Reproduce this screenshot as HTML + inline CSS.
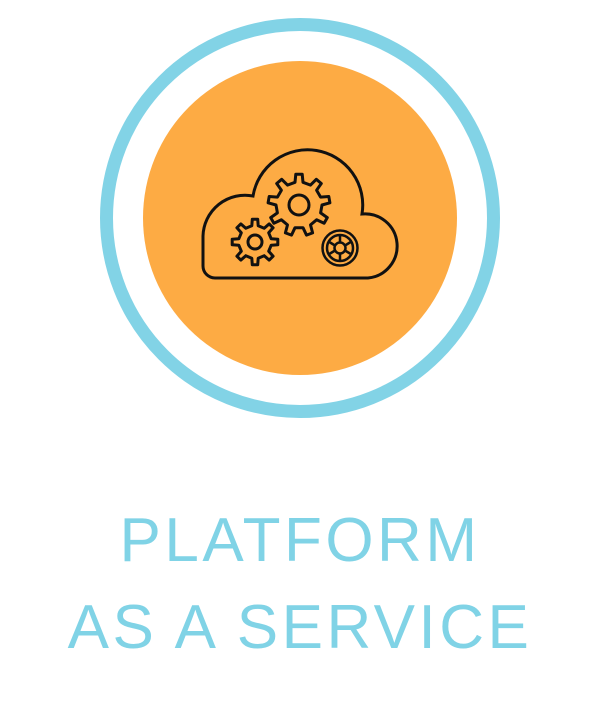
<!DOCTYPE html>
<html><head><style>
html,body{margin:0;padding:0;background:#fff;width:600px;height:719px;overflow:hidden}
.t{position:absolute;left:0;width:600px;text-align:center;font-family:"Liberation Sans",sans-serif;color:#80d3e6;font-size:62px;letter-spacing:3.5px}
</style></head><body>
<svg width="600" height="719" style="position:absolute;left:0;top:0">
<circle cx="300" cy="218" r="193.5" fill="none" stroke="#82d3e6" stroke-width="13"/>
<circle cx="300" cy="218" r="157" fill="#fdab44"/>
<path d="M215 278 H368 A30 30 0 0 0 362 214 A55 55 0 0 0 253 196 A42 42 0 0 0 203 236 L203 266 A12 12 0 0 0 215 278 Z" fill="none" stroke="#111" stroke-width="3"/>
<path id="g1" fill="none" stroke="#111" stroke-width="3" stroke-linejoin="round"/>
<circle cx="299" cy="205" r="10" fill="none" stroke="#111" stroke-width="3"/>
<path id="g2" fill="none" stroke="#111" stroke-width="3" stroke-linejoin="round"/>
<circle cx="255" cy="242" r="7" fill="none" stroke="#111" stroke-width="3"/>
<g transform="translate(340,248)" stroke="#111" stroke-width="2.5" fill="none">
<circle r="17.5"/><circle r="13"/><circle r="5.5"/>
<path d="M0 -5.5V-13 M0 5.5V13 M5 -2.5L11.5 -6.5 M-5 -2.5L-11.5 -6.5 M5 2.5L11.5 6.5 M-5 2.5L-11.5 6.5"/>
</g>
</svg>
<div class="t" style="top:505px">PLATFORM</div>
<div class="t" style="top:592px">AS A SERVICE</div>
<script>
function gear(cx,cy,n,rr,rt,rot){
 var pts=[],step=2*Math.PI/n;
 for(var i=0;i<n;i++){
  var a=i*step+rot;
  var a1=a-step*0.25,a2=a-step*0.15,a3=a+step*0.15,a4=a+step*0.25;
  pts.push([a1,rr],[a2,rt],[a3,rt],[a4,rr]);
 }
 return "M"+pts.map(function(p){return (cx+p[1]*Math.cos(p[0])).toFixed(1)+" "+(cy+p[1]*Math.sin(p[0])).toFixed(1)}).join(" L")+" Z";
}
document.getElementById("g1").setAttribute("d",gear(299,205,9,23,31,-Math.PI/2));
document.getElementById("g2").setAttribute("d",gear(255,242,8,16.5,23,-Math.PI/2));
</script>
</body></html>
